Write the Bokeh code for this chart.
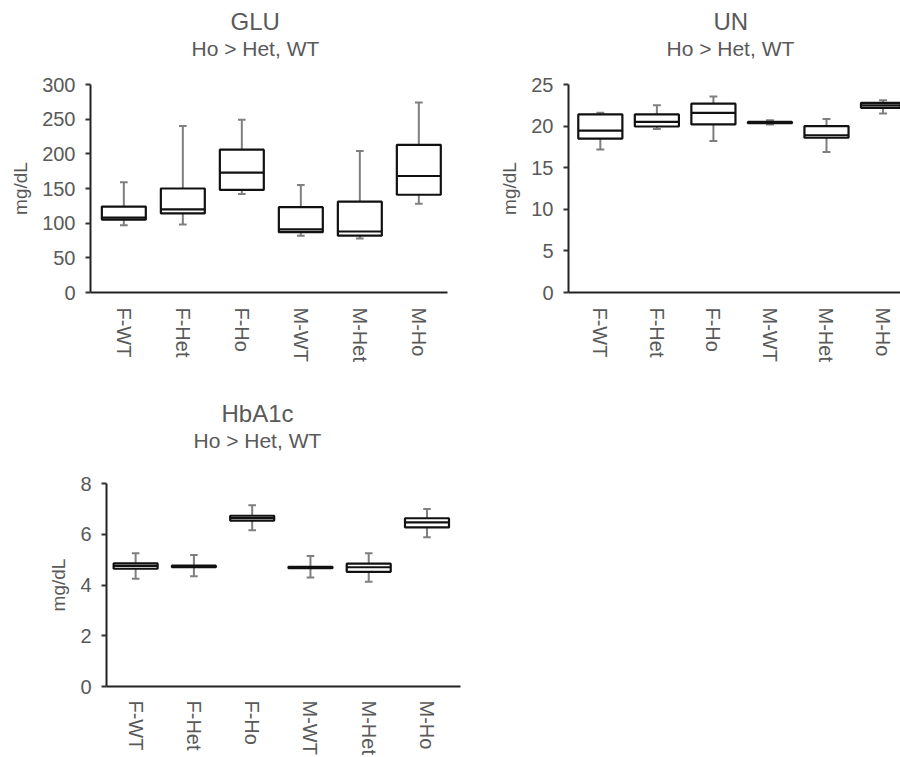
import math
from bokeh.plotting import figure
from bokeh.layouts import row, column
from bokeh.models import FixedTicker, Title, Range1d
from bokeh.embed import file_html
from bokeh.resources import INLINE

groups = ["F-WT", "F-Het", "F-Ho", "M-WT", "M-Het", "M-Ho"]

glu_min = [97, 98, 142, 82, 78, 128]
glu_q1 = [105, 114, 148, 87, 82, 141]
glu_med = [108, 120, 173, 91, 88, 168]
glu_q3 = [124, 150, 206, 123, 131, 213]
glu_max = [159, 240, 249, 155, 204, 274]

un_min = [17.2, 19.65, 18.2, 20.2, 16.9, 21.5]
un_q1 = [18.5, 19.95, 20.2, 20.34, 18.6, 22.2]
un_med = [19.45, 20.5, 21.6, 20.42, 18.9, 22.5]
un_q3 = [21.4, 21.4, 22.7, 20.5, 20.0, 22.8]
un_max = [21.6, 22.5, 23.55, 20.7, 20.85, 23.1]

hb_min = [4.25, 4.34, 6.16, 4.30, 4.13, 5.88]
hb_q1 = [4.64, 4.70, 6.54, 4.66, 4.52, 6.27]
hb_med = [4.75, 4.73, 6.64, 4.69, 4.70, 6.47]
hb_q3 = [4.85, 4.76, 6.73, 4.72, 4.84, 6.63]
hb_max = [5.25, 5.18, 7.14, 5.14, 5.25, 7.00]

SUBTITLE = "Ho > Het, WT"
YLABEL = "mg/dL"

FONT = "Liberation Sans"
TXT = "#595959"


def panel(title, mins, q1, med, q3, mx, y_end, y_step, width, height,
          borders, x_range, box_w, cap_w, title_off, sub_off, spacer,
          x_standoff):
    left, right, top, bottom = borders
    p = figure(width=width, height=height, output_backend="svg",
               toolbar_location=None, x_range=Range1d(*x_range),
               y_range=Range1d(0, y_end),
               min_border_left=left, min_border_right=right,
               min_border_top=top, min_border_bottom=bottom)
    p.outline_line_color = None
    p.xgrid.visible = False
    p.ygrid.visible = False
    p.background_fill_color = "white"
    p.border_fill_color = "white"

    # invisible spacer between frame and subtitle
    p.add_layout(Title(text=" ", text_font_size="10px", standoff=spacer,
                       text_color="white"), "above")
    p.add_layout(Title(text=SUBTITLE, align="left", offset=sub_off,
                       text_font=FONT, text_font_size="21px",
                       text_font_style="normal", text_color=TXT,
                       standoff=0), "above")
    p.add_layout(Title(text=title, align="left", offset=title_off,
                       text_font=FONT, text_font_size="24px",
                       text_font_style="normal", text_color=TXT,
                       standoff=0), "above")

    xs = list(range(len(groups)))
    # whiskers
    p.segment(x0=xs, x1=xs, y0=q3, y1=mx, line_color="#7f7f7f", line_width=2)
    p.segment(x0=xs, x1=xs, y0=q1, y1=mins, line_color="#7f7f7f", line_width=2)
    # caps
    p.segment(x0=[x - cap_w / 2 for x in xs], x1=[x + cap_w / 2 for x in xs],
              y0=mx, y1=mx, line_color="#7f7f7f", line_width=2)
    p.segment(x0=[x - cap_w / 2 for x in xs], x1=[x + cap_w / 2 for x in xs],
              y0=mins, y1=mins, line_color="#7f7f7f", line_width=2)
    # boxes
    p.vbar(x=xs, bottom=q1, top=q3, width=box_w, fill_color="white",
           line_color="#111111", line_width=2.2)
    p.segment(x0=[x - box_w / 2 for x in xs], x1=[x + box_w / 2 for x in xs],
              y0=med, y1=med, line_color="#111111", line_width=2.2)

    ya = p.yaxis[0]
    ya.ticker = FixedTicker(ticks=[i * y_step for i in range(int(round(y_end / y_step)) + 1)])
    ya.axis_label = YLABEL
    ya.axis_label_text_font = FONT
    ya.axis_label_text_font_size = "19px"
    ya.axis_label_text_font_style = "normal"
    ya.axis_label_text_color = TXT
    ya.axis_label_standoff = 8
    ya.major_label_text_font = FONT
    ya.major_label_text_font_size = "20px"
    ya.major_label_text_color = TXT
    ya.major_label_standoff = 10
    ya.major_tick_in = 0
    ya.major_tick_out = 5
    ya.major_tick_line_color = "#333333"
    ya.major_tick_line_width = 2
    ya.minor_tick_line_color = None
    ya.axis_line_color = "#222222"
    ya.axis_line_width = 2

    xa = p.xaxis[0]
    xa.ticker = FixedTicker(ticks=xs)
    xa.major_label_overrides = {i: g for i, g in enumerate(groups)}
    xa.major_label_orientation = -math.pi / 2
    xa.major_label_text_font = FONT
    xa.major_label_text_font_size = "20px"
    xa.major_label_text_color = TXT
    xa.major_label_standoff = x_standoff
    xa.major_tick_in = 0
    xa.major_tick_out = 0
    xa.minor_tick_line_color = None
    xa.axis_line_color = "#222222"
    xa.axis_line_width = 2
    return p


glu = panel("GLU", glu_min, glu_q1, glu_med, glu_q3, glu_max, 300, 50,
            460, 380, (90, 13, 83, 88), (-0.565, 5.486), 0.745, 0.13,
            140, 101, 12, 15)
un = panel("UN", un_min, un_q1, un_med, un_q3, un_max, 25, 5,
           440, 380, (108, 0, 84, 88), (-0.563, 5.309), 0.78, 0.14,
           145, 98, 12, 15)
hb = panel("HbA1c", hb_min, hb_q1, hb_med, hb_q3, hb_max, 8, 2,
           470, 377, (106, 10, 103, 70), (-0.50, 5.575), 0.755, 0.13,
           115, 87, 19, 14)

layout = column(row(glu, un), hb)

open("out.html", "w").write(file_html(layout, INLINE))
